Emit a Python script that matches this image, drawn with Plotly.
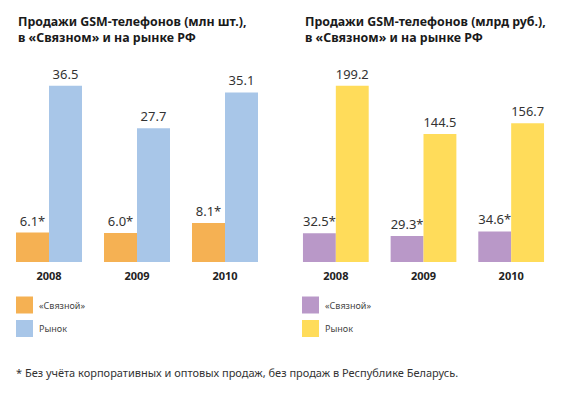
import plotly.graph_objects as go

years = ["2008", "2009", "2010"]
svyaznoy_units = [6.1, 6.0, 8.1]
market_units = [36.5, 27.7, 35.1]
svyaznoy_rub = [32.5, 29.3, 34.6]
market_rub = [199.2, 144.5, 156.7]

title_left = ["Продажи GSM-телефонов (млн шт.),", "в «Связном» и на рынке РФ"]
title_right = ["Продажи GSM-телефонов (млрд руб.),", "в «Связном» и на рынке РФ"]
legend_labels = ["«Связной»", "Рынок"]
footnote = "* Без учёта корпоративных и оптовых продаж, без продаж в Республике Беларусь."

ORANGE = "#F5B153"
BLUE = "#A8C6E8"
PURPLE = "#B998C8"
YELLOW = "#FFDC5A"
FONT = "Noto Sans"
W, H = 564, 396

fig = go.Figure()
lblfont = dict(family=FONT, size=13, color="#333333")

def add_pair(a, b, ca, cb, xa, ya):
    fig.add_trace(go.Bar(x=years, y=a, marker=dict(color=ca, line=dict(width=0)),
                         texttemplate="%{y:.1f}*", textposition="outside",
                         textfont=lblfont, cliponaxis=False, showlegend=False,
                         xaxis=xa, yaxis=ya))
    fig.add_trace(go.Bar(x=years, y=b, marker=dict(color=cb, line=dict(width=0)),
                         texttemplate="%{y:.1f}", textposition="outside",
                         textfont=lblfont, cliponaxis=False, showlegend=False,
                         xaxis=xa, yaxis=ya))

add_pair(svyaznoy_units, market_units, ORANGE, BLUE, "x", "y")
add_pair(svyaznoy_rub, market_rub, PURPLE, YELLOW, "x2", "y2")

def py(px):
    return (H - px) / H

ybot, ytop = py(262), py(60)
frac = (262 - 85.7) / (262 - 60)

xcommon = dict(type="category", showline=False, showgrid=False, zeroline=False,
               ticks="outside", ticklen=4, tickcolor="rgba(0,0,0,0)",
               tickfont=dict(family=FONT, size=11, color="#222222", weight="bold"),
               fixedrange=True)
ycommon = dict(visible=False, showgrid=False, zeroline=False, fixedrange=True)

fig.update_layout(
    width=W, height=H, margin=dict(l=0, r=0, t=0, b=0),
    paper_bgcolor="white", plot_bgcolor="white",
    barmode="group", bargap=0.25, bargroupgap=0,
    xaxis=dict(domain=[5 / W, 269 / W], anchor="y", **xcommon),
    xaxis2=dict(domain=[292 / W, 555 / W], anchor="y2", **xcommon),
    yaxis=dict(domain=[ybot, ytop], range=[0, max(market_units) / frac], anchor="x", **ycommon),
    yaxis2=dict(domain=[ybot, ytop], range=[0, max(market_rub) / frac], anchor="x2", **ycommon),
    font=dict(family=FONT),
)

ann = []
shapes = []
for x0, lines in ((16, title_left), (303, title_right)):
    for i, t in enumerate(lines):
        ann.append(dict(x=x0 / W, y=py(21.5 + 16.5 * i), xref="paper", yref="paper",
                        xanchor="left", yanchor="middle", showarrow=False, text=t,
                        font=dict(family=FONT, size=12.4, color="#1a1a1a", weight="bold")))

for x0, cols in ((16, (ORANGE, BLUE)), (302, (PURPLE, YELLOW))):
    for i, (lab, c) in enumerate(zip(legend_labels, cols)):
        yc = 305 + 23.5 * i
        shapes.append(dict(type="rect", xref="paper", yref="paper",
                           x0=x0 / W, x1=(x0 + 17) / W, y0=py(yc + 8.5), y1=py(yc - 8.5),
                           fillcolor=c, line=dict(width=0)))
        ann.append(dict(x=(x0 + 21) / W, y=py(yc), xref="paper", yref="paper",
                        xanchor="left", yanchor="middle", showarrow=False, text=lab,
                        font=dict(family=FONT, size=9, color="#444444")))

ann.append(dict(x=14 / W, y=py(372), xref="paper", yref="paper", xanchor="left",
                yanchor="middle", showarrow=False, text=footnote,
                font=dict(family=FONT, size=11, color="#333333")))

fig.update_layout(annotations=ann, shapes=shapes)
fig.write_html("out.html", config={"displayModeBar": False},
               post_script="document.body.style.margin='0';")
